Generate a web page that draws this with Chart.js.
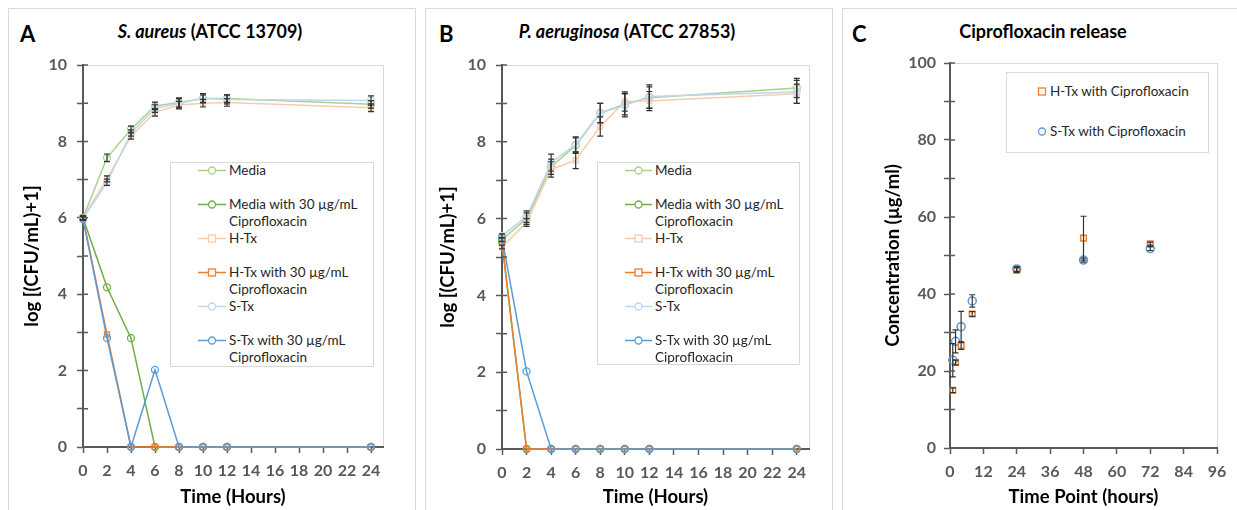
<!DOCTYPE html>
<html>
<head>
<meta charset="utf-8">
<script src="https://cdn.jsdelivr.net/npm/chart.js@4.4.0/dist/chart.umd.min.js"></script>
<style>
  body { margin: 0; background: #fff; font-family: Lato, sans-serif; width: 1237px; height: 510px; overflow: hidden; position: relative; }
  .frame { position: absolute; top: 8px; height: 530px; border: 1px solid #d9d9d9; box-sizing: border-box; }
  .letter { position: absolute; top: 22px; font-size: 22px; line-height: 24px; font-weight: bold; color: #000; }
  .title { position: absolute; top: 21px; font-size: 18px; line-height: 20px; font-weight: bold; color: #000; white-space: nowrap; transform: translateX(-50%); }
  canvas { position: absolute; }
  .legend { position: absolute; border: 1px solid #d9d9d9; background: #fff; box-sizing: border-box; font-size: 13.5px; color: #262626; }
  .row { position: absolute; left: 0; right: 0; line-height: 17px; white-space: pre-line; }
  .row svg { position: absolute; top: 0; }
  .row span { position: absolute; top: 0; }
</style>
</head>
<body>
<div class="frame" style="left:8px;width:408px"></div>
<div class="frame" style="left:425px;width:408px"></div>
<div class="frame" style="left:842px;width:410px"></div>

<div class="letter" style="left:20px">A</div>
<div class="letter" style="left:439px">B</div>
<div class="letter" style="left:852px">C</div>
<div class="title" style="left:210px"><i>S. aureus</i> (ATCC 13709)</div>
<div class="title" style="left:627px"><i>P. aeruginosa</i> (ATCC 27853)</div>
<div class="title" style="left:1043px">Ciprofloxacin release</div>

<canvas id="chartA" width="400" height="466" style="left:8px;top:44px"></canvas>
<canvas id="chartB" width="400" height="466" style="left:425px;top:44px"></canvas>
<canvas id="chartC" width="395" height="466" style="left:842px;top:44px"></canvas>

<div class="legend" id="legA" style="left:170px;top:162px;width:204px;height:205px"></div>
<div class="legend" id="legB" style="left:597px;top:162px;width:203px;height:203px"></div>
<div class="legend" id="legC" style="left:1006px;top:72px;width:203px;height:81px"></div>

<script>
// time points (hours) for panels A and B
const hours = [0, 2, 4, 6, 8, 10, 12, 24];
const hourTicks = [0, 2, 4, 6, 8, 10, 12, 14, 16, 18, 20, 22, 24];
const seriesNames = ['Media', 'Media with 30 µg/mL\nCiprofloxacin', 'H-Tx', 'H-Tx with 30 µg/mL\nCiprofloxacin', 'S-Tx', 'S-Tx with 30 µg/mL\nCiprofloxacin'];

// A: S. aureus
const saMedia       = [6.0, 7.57, 8.32, 8.93, 9.02, 9.12, 9.12, 8.97];
const saMediaErr    = [0.05, 0.1, 0.08, 0.1, 0.12, 0.1, 0.1, 0.1];
const saMediaCipro  = [6.0, 4.18, 2.85, 0, 0, 0, 0, 0];
const saHTx         = [6.0, 7.02, 8.14, 8.76, 8.95, 9.0, 9.02, 8.88];
const saHTxErr      = [0.05, 0.08, 0.08, 0.1, 0.1, 0.1, 0.1, 0.1];
const saHTxCipro    = [6.0, 2.95, 0, 0, 0, 0, 0, 0];
const saSTx         = [5.98, 6.93, 8.22, 8.86, 9.0, 9.13, 9.1, 9.07];
const saSTxErr      = [0.05, 0.08, 0.08, 0.1, 0.12, 0.12, 0.12, 0.12];
const saSTxCipro    = [5.97, 2.85, 0, 2.02, 0, 0, 0, 0];

// B: P. aeruginosa
const paMedia       = [5.45, 6.0, 7.35, 7.9, 8.75, 8.98, 9.15, 9.4];
const paMediaErr    = [0.05, 0.15, 0.2, 0.2, 0.25, 0.28, 0.28, 0.25];
const paMediaCipro  = [5.4, 0, 0, 0, 0, 0, 0, 0];
const paHTx         = [5.26, 5.9, 7.28, 7.52, 8.4, 9.05, 9.06, 9.25];
const paHTxErr      = [0.05, 0.1, 0.2, 0.22, 0.25, 0.25, 0.25, 0.25];
const paHTxCipro    = [5.36, 0, 0, 0, 0, 0, 0, 0];
const paSTx         = [5.55, 6.05, 7.46, 7.93, 8.75, 8.95, 9.18, 9.3];
const paSTxErr      = [0.05, 0.15, 0.22, 0.2, 0.25, 0.3, 0.3, 0.3];
const paSTxCipro    = [5.5, 2.02, 0, 0, 0, 0, 0, 0];

// C: ciprofloxacin release
const releaseHours = [1, 2, 4, 8, 24, 48, 72];
const releaseTicks = [0, 12, 24, 36, 48, 60, 72, 84, 96];
const releaseNames = ['H-Tx with Ciprofloxacin', 'S-Tx with Ciprofloxacin'];
const hTxRelease    = [15.0, 22.2, 26.6, 34.8, 46.2, 54.5, 53.0];
const hTxReleaseErr = [0.6, 0.6, 1.0, 0.6, 0.6, 5.7, 0.5];
const sTxRelease    = [22.8, 27.7, 31.5, 38.2, 46.5, 48.8, 51.8];
const sTxReleaseErr = [4.3, 3.0, 4.0, 1.6, 0.6, 0.5, 0.5];

// styles
const lineColors = ['#a9d18e', '#70ad47', '#f8cbad', '#ed7d31', '#bdd7ee', '#5b9bd5'];
const lineMarkers = ['circle', 'circle', 'rect', 'rect', 'circle', 'circle'];
const axisGray = '#595959';
const tickFont = { family: 'Lato', size: 16, weight: 'bold' };
const titleFont = { family: 'Lato', size: 18.5, weight: 'bold' };

const errorBars = {
  id: 'errorBars',
  afterDatasetsDraw(chart) {
    const ctx = chart.ctx, xs = chart.scales.x, ys = chart.scales.y;
    ctx.save();
    ctx.strokeStyle = '#333';
    ctx.lineWidth = 1.2;
    chart.data.datasets.forEach(ds => {
      if (!ds.errors) return;
      ds.data.forEach((p, j) => {
        const e = ds.errors[j];
        if (!e) return;
        const px = xs.getPixelForValue(p.x);
        const top = ys.getPixelForValue(p.y + e);
        const bot = ys.getPixelForValue(p.y - e);
        ctx.beginPath();
        ctx.moveTo(px, top); ctx.lineTo(px, bot);
        ctx.moveTo(px - 3, top); ctx.lineTo(px + 3, top);
        ctx.moveTo(px - 3, bot); ctx.lineTo(px + 3, bot);
        ctx.stroke();
      });
    });
    ctx.restore();
  }
};

// light plot-area border plus the inner half of the axis tick marks
const plotFrame = {
  id: 'plotFrame',
  beforeDraw(chart) {
    const a = chart.chartArea, ctx = chart.ctx;
    ctx.save();
    ctx.strokeStyle = '#d9d9d9';
    ctx.lineWidth = 1;
    ctx.strokeRect(Math.round(a.left) + 0.5, Math.round(a.top) + 0.5, Math.round(a.width), Math.round(a.height));
    ctx.restore();
  },
  afterDraw(chart) {
    const a = chart.chartArea, ctx = chart.ctx;
    ctx.save();
    ctx.strokeStyle = axisGray;
    ctx.lineWidth = 1.5;
    ctx.beginPath();
    chart.scales.y.ticks.forEach(t => {
      const py = chart.scales.y.getPixelForValue(t.value);
      ctx.moveTo(a.left, py); ctx.lineTo(a.left + 5, py);
    });
    ctx.stroke();
    ctx.restore();
  }
};

function points(xv, yv) {
  return xv.map((h, i) => ({ x: h, y: yv[i] }));
}

function axis(opts) {
  return {
    type: 'linear',
    min: opts.min, max: opts.max,
    grid: { drawOnChartArea: false, drawTicks: true, tickLength: 6, color: axisGray, tickWidth: 1.5 },
    border: { color: axisGray, width: 2 },
    ticks: Object.assign({ color: axisGray, font: tickFont, padding: opts.pad, maxRotation: 0, autoSkip: false }, opts.ticks || {}),
    title: { display: true, text: opts.title, color: '#000', font: titleFont, padding: opts.titlePad },
    afterBuildTicks: opts.tickList ? (s => { s.ticks = opts.tickList.map(v => ({ value: v })); }) : undefined,
    afterFit: opts.fit
  };
}

function growthChart(id, series, errs, yW, xH, padR, yTitlePad) {
  const datasets = series.map((vals, i) => ({
    label: seriesNames[i],
    data: points(hours, vals),
    errors: errs[i],
    borderColor: lineColors[i],
    borderWidth: 1.5,
    pointStyle: lineMarkers[i],
    pointRadius: 3.5,
    pointBorderWidth: 1.3,
    pointBorderColor: lineColors[i],
    pointBackgroundColor: 'rgba(255,255,255,0)',
    tension: 0,
    fill: false,
    clip: false,
    order: series.length - i
  }));
  return new Chart(document.getElementById(id), {
    type: 'line',
    data: { datasets },
    options: {
      responsive: false, animation: false, devicePixelRatio: 1,
      layout: { padding: { left: 0, top: 21, right: padR, bottom: 0 } },
      plugins: { legend: { display: false }, tooltip: { enabled: false } },
      scales: {
        x: axis({ min: 0, max: 25, pad: 8, title: 'Time (Hours)', titlePad: { top: 0, bottom: 2 }, tickList: hourTicks, fit: s => { s.height = xH; } }),
        y: axis({ min: 0, max: 10, pad: 10, title: 'log [(CFU/mL)+1]', titlePad: { top: yTitlePad, bottom: 0 },
          ticks: { stepSize: 1, callback: v => (v % 2 === 0 ? v : '') }, fit: s => { s.width = yW; } })
      }
    },
    plugins: [plotFrame, errorBars]
  });
}

const chartA = growthChart('chartA',
  [saMedia, saMediaCipro, saHTx, saHTxCipro, saSTx, saSTxCipro],
  [saMediaErr, null, saHTxErr, null, saSTxErr, null], 75, 63, 25, 13);
const chartB = growthChart('chartB',
  [paMedia, paMediaCipro, paHTx, paHTxCipro, paSTx, paSTxCipro],
  [paMediaErr, null, paHTxErr, null, paSTxErr, null], 77, 61, 16, 12);

const chartC = new Chart(document.getElementById('chartC'), {
  type: 'scatter',
  data: {
    datasets: [
      { label: releaseNames[0], data: points(releaseHours, hTxRelease), errors: hTxReleaseErr, pointStyle: 'rect', pointRadius: 4,
        pointBorderWidth: 1.5, pointBorderColor: '#ed7d31', pointBackgroundColor: 'rgba(255,255,255,0)', borderColor: '#ed7d31', showLine: false, clip: false },
      { label: releaseNames[1], data: points(releaseHours, sTxRelease), errors: sTxReleaseErr, pointStyle: 'circle', pointRadius: 4,
        pointBorderWidth: 1.5, pointBorderColor: '#5b9bd5', pointBackgroundColor: 'rgba(255,255,255,0)', borderColor: '#5b9bd5', showLine: false, clip: false }
    ]
  },
  options: {
    responsive: false, animation: false, devicePixelRatio: 1,
    layout: { padding: { left: 0, top: 19, right: 20, bottom: 0 } },
    plugins: { legend: { display: false }, tooltip: { enabled: false } },
    scales: {
      x: axis({ min: 0, max: 96, pad: 8, title: 'Time Point (hours)', titlePad: { top: 0, bottom: 2 }, tickList: releaseTicks, fit: s => { s.height = 62; } }),
      y: axis({ min: 0, max: 100, pad: 8, title: 'Concentration (µg/ml)', titlePad: { top: 40, bottom: 0 },
        ticks: { stepSize: 10, callback: v => (v % 20 === 0 ? v : '') }, fit: s => { s.width = 108; } })
    }
  },
  plugins: [plotFrame, errorBars]
});

// html legends built from the chart datasets
function buildLegend(elId, chart, o) {
  const el = document.getElementById(elId);
  chart.data.datasets.forEach((ds, i) => {
    const row = document.createElement('div');
    row.className = 'row';
    row.style.top = (o.top + i * o.step) + 'px';
    const c = ds.pointBorderColor;
    const w = o.lineW, mid = w / 2;
    let mark = ds.pointStyle === 'rect'
      ? `<rect x="${mid - o.r}" y="${8.5 - o.r}" width="${o.r * 2}" height="${o.r * 2}" fill="#fff" stroke="${c}" stroke-width="1.3"/>`
      : `<circle cx="${mid}" cy="8.5" r="${o.r}" fill="#fff" stroke="${c}" stroke-width="1.3"/>`;
    const line = o.line ? `<line x1="0" y1="8.5" x2="${w}" y2="8.5" stroke="${c}" stroke-width="1.5"/>` : '';
    row.innerHTML = `<svg width="${w}" height="17" style="left:${o.lineX}px">${line}${mark}</svg><span style="left:${o.textX}px">${ds.label}</span>`;
    el.appendChild(row);
  });
}
buildLegend('legA', chartA, { top: -1, step: 34, lineX: 27, lineW: 28, textX: 58, r: 3.5, line: true });
buildLegend('legB', chartB, { top: -1, step: 34, lineX: 27, lineW: 27, textX: 57, r: 3.5, line: true });
buildLegend('legC', chartC, { top: 10, step: 40, lineX: 29, lineW: 12, textX: 43, r: 3.5, line: false });
</script>
</body>
</html>
